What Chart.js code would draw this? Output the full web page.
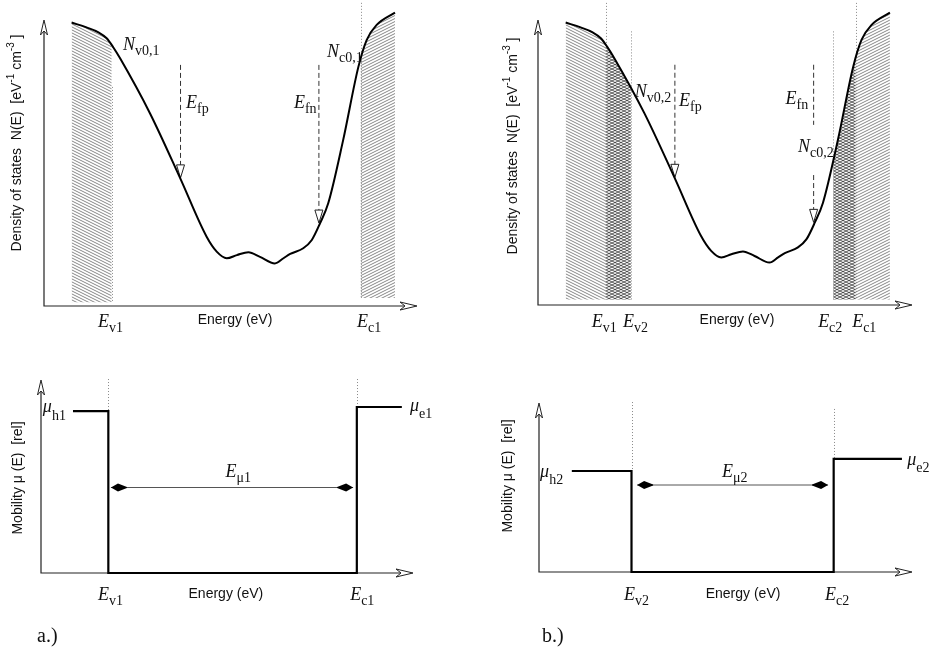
<!DOCTYPE html>
<html lang="ja">
<head>
<meta charset="utf-8">
<title>N(E) and mobility</title>
<script src="https://cdn.jsdelivr.net/npm/chart.js@4.4.1/dist/chart.umd.min.js"></script>
<style>
  html, body { margin: 0; padding: 0; background: #fff; }
  .panel { position: absolute; }
</style>
</head>
<body>
<canvas id="dosA" class="panel" width="468" height="340" style="left:0;top:0"></canvas>
<canvas id="dosB" class="panel" width="469" height="340" style="left:468px;top:0"></canvas>
<canvas id="mobA" class="panel" width="468" height="307" style="left:0;top:340px"></canvas>
<canvas id="mobB" class="panel" width="469" height="307" style="left:468px;top:340px"></canvas>
<script>
// ---- データ（図から読み取った値、単位は任意） ----
// 状態密度 N(E) のカーブ
const dosEnergy = [0.74, 1.14, 1.46, 1.68, 1.86, 2.04, 2.84, 3.65, 4.36, 4.63, 4.90, 5.17, 5.48,
                   5.79, 6.19, 6.42, 6.60, 6.95, 7.18, 7.40, 7.62, 8.02, 8.43, 8.65, 8.92, 9.41];
const dosValue = [9.91, 9.74, 9.57, 9.36, 9.04, 8.66, 6.74, 4.47, 2.42, 1.90, 1.67, 1.78, 1.88,
                  1.72, 1.49, 1.67, 1.82, 2.02, 2.31, 2.89, 3.59, 5.80, 8.37, 9.30, 9.83, 10.26];

// バンド端
const Ev1 = 1.81, Ev2 = 2.48, Ec2 = 7.90, Ec1 = 8.49;

// 擬フェルミ準位 Efp / Efn（破線の上端と矢印の先端）
const fermiEnergy = [3.66, 7.37];
const fermiTip = [4.48, 2.90];
const fermiTop = 8.43;

// 移動度 μ(E)
const mobEnergyA = [0.86, Ev1, Ev1, Ec1, Ec1, 9.70];
const mobValueA = [8.39, 8.39, 0, 0, 8.60, 8.60];
const mobEnergyB = [0.88, Ev2, Ev2, Ec2, Ec2, 9.73];
const mobValueB = [5.26, 5.26, 0, 0, 5.89, 5.89];

// 移動度ギャップ Eμ の両矢印 [左端, 右端, 高さ]
const gapA = [1.88, 8.39, 4.43];
const gapB = [2.63, 7.75, 4.53];

// ---- 書式 ----
const SERIF = '"Liberation Serif", "DejaVu Serif", serif';
const SANS = '"Liberation Sans", Arial, sans-serif';
const ITAL = `italic 18px ${SERIF}`;
const SUB = `14px ${SERIF}`;
const LBL = `14px ${SANS}`;
const MU = `italic 18px ${SERIF}`;

const sym = (main, s, font = ITAL, dy = 5) => [{ t: main, f: font }, { t: s, f: SUB, dy }];
const energyLabel = [{ t: "Energy (eV)", f: LBL }];
const dosTitle = [
  { t: "Density of states  N(E)  [eV", f: LBL },
  { t: "-1", f: `10px ${SANS}`, dy: -6 },
  { t: " cm", f: LBL },
  { t: "-3", f: `10px ${SANS}`, dy: -6 },
  { t: " ]", f: LBL },
];
const mobTitle = [{ t: "Mobility μ (E)  [rel]", f: LBL }];

function pattern(dirs, color, width) {
  const c = document.createElement("canvas");
  c.width = 6; c.height = 3;
  const g = c.getContext("2d");
  g.strokeStyle = color; g.lineWidth = width;
  dirs.forEach(d => {
    for (let k = -1; k <= 1; k++) {
      g.beginPath();
      if (d === "\\") { g.moveTo(-6, -3 + 3 * k); g.lineTo(12, 6 + 3 * k); }
      else { g.moveTo(-6, 6 + 3 * k); g.lineTo(12, -3 + 3 * k); }
      g.stroke();
    }
  });
  return g.createPattern(c, "repeat");
}
const HATCH_BACK = pattern(["\\"], "rgba(0,0,0,0.6)", 0.8);
const HATCH_FWD = pattern(["/"], "rgba(0,0,0,0.6)", 0.8);
const HATCH_CROSS = pattern(["\\", "/"], "rgba(0,0,0,0.75)", 0.8);

function rich(ctx, x, y, parts, align) {
  let w = 0;
  parts.forEach(p => { ctx.font = p.f; w += ctx.measureText(p.t).width; });
  let cx = align === "center" ? x - w / 2 : x;
  parts.forEach(p => {
    ctx.font = p.f;
    ctx.fillText(p.t, cx, y + (p.dy || 0));
    cx += ctx.measureText(p.t).width;
  });
}

// カーブの下をハッチング（x0〜x1 の範囲）
function hatch(chart, b) {
  const { ctx, scales: { x, y } } = chart;
  const line = chart.getDatasetMeta(0).dataset;
  const px0 = x.getPixelForValue(b.x0), px1 = x.getPixelForValue(b.x1);
  const pyb = y.getPixelForValue(b.bottom);
  ctx.save();
  ctx.beginPath();
  ctx.rect(px0, 0, px1 - px0, pyb);
  ctx.clip();
  ctx.beginPath();
  const pts = line.points;
  if (typeof line.path === "function") {
    if (line.updateControlPoints) line.updateControlPoints(chart.chartArea, "x");
    line.path(ctx);
  } else {
    pts.forEach((p, i) => (i ? ctx.lineTo(p.x, p.y) : ctx.moveTo(p.x, p.y)));
  }
  ctx.lineTo(pts[pts.length - 1].x, pyb);
  ctx.lineTo(pts[0].x, pyb);
  ctx.closePath();
  ctx.fillStyle = b.pat;
  ctx.fill();
  ctx.restore();
}

function decoPlugin(cfg) {
  return {
    id: "deco",
    beforeDatasetsDraw(chart) {
      const { ctx, chartArea: a, scales: { x, y } } = chart;
      (cfg.bands || []).forEach(b => hatch(chart, b));
      // バンド端の点線
      ctx.save();
      ctx.strokeStyle = "#8a8a8a";
      ctx.lineWidth = 1;
      ctx.setLineDash([1, 2]);
      (cfg.dotted || []).forEach(d => {
        const px = Math.round(x.getPixelForValue(d.x)) + 0.5;
        ctx.beginPath();
        ctx.moveTo(px, y.getPixelForValue(d.from));
        ctx.lineTo(px, y.getPixelForValue(d.to));
        ctx.stroke();
      });
      ctx.restore();
      // 軸
      ctx.save();
      ctx.strokeStyle = "#222";
      ctx.lineWidth = 1.2;
      ctx.beginPath();
      ctx.moveTo(a.left, a.top + 2);
      ctx.lineTo(a.left, a.bottom);
      ctx.lineTo(a.right - 2, a.bottom);
      ctx.stroke();
      ctx.restore();
    },
    afterDatasetDraw(chart, args) {
      if (!(cfg.triangles || []).includes(args.index)) return;
      const { ctx } = chart;
      const pts = args.meta.data;
      const p = pts[pts.length - 1];
      ctx.save();
      ctx.beginPath();
      ctx.moveTo(p.x, p.y);
      ctx.lineTo(p.x - 4, p.y - 13);
      ctx.lineTo(p.x + 4, p.y - 13);
      ctx.closePath();
      ctx.fillStyle = "#fff";
      ctx.fill();
      ctx.strokeStyle = "#222";
      ctx.lineWidth = 1;
      ctx.stroke();
      ctx.restore();
    },
    afterDatasetsDraw(chart) {
      const { ctx, chartArea: a, scales: { x, y } } = chart;
      ctx.save();
      // 軸の矢印（白抜き）
      ctx.strokeStyle = "#222";
      ctx.fillStyle = "#fff";
      ctx.lineWidth = 1;
      ctx.beginPath();
      ctx.moveTo(a.left, a.top);
      ctx.lineTo(a.left - 3.5, a.top + 15);
      ctx.lineTo(a.left, a.top + 11);
      ctx.lineTo(a.left + 3.5, a.top + 15);
      ctx.closePath();
      ctx.fill(); ctx.stroke();
      ctx.beginPath();
      ctx.moveTo(a.right, a.bottom);
      ctx.lineTo(a.right - 17, a.bottom - 4);
      ctx.lineTo(a.right - 12, a.bottom);
      ctx.lineTo(a.right - 17, a.bottom + 4);
      ctx.closePath();
      ctx.fill(); ctx.stroke();
      // Eμ の両矢印の先端
      if (cfg.gapIndex !== undefined) {
        const pts = chart.getDatasetMeta(cfg.gapIndex).data;
        ctx.fillStyle = "#000";
        [[pts[0], 1], [pts[pts.length - 1], -1]].forEach(([p, s]) => {
          ctx.beginPath();
          ctx.moveTo(p.x, p.y);
          ctx.lineTo(p.x + s * 7, p.y - 4);
          ctx.lineTo(p.x + s * 16, p.y - 0.6);
          ctx.lineTo(p.x + s * 16, p.y + 0.6);
          ctx.lineTo(p.x + s * 7, p.y + 4);
          ctx.closePath();
          ctx.fill();
        });
      }
      // 文字
      ctx.fillStyle = "#111";
      ctx.textBaseline = "alphabetic";
      (cfg.labels || []).forEach(l => {
        const px = x.getPixelForValue(l.x);
        const py = l.y !== undefined ? y.getPixelForValue(l.y) : a.bottom + l.below;
        rich(ctx, px, py, l.parts, l.align);
      });
      (cfg.free || []).forEach(l => rich(ctx, l.px, l.py, l.parts, l.align));
      if (cfg.title) {
        ctx.save();
        ctx.translate(cfg.title.px, cfg.title.py);
        ctx.rotate(-Math.PI / 2);
        ctx.textBaseline = "middle";
        rich(ctx, 0, 0, cfg.title.parts, "center");
        ctx.restore();
      }
      ctx.restore();
    },
  };
}

function options(pad, yMax) {
  return {
    responsive: false,
    animation: false,
    layout: { padding: pad },
    scales: {
      x: { type: "linear", min: 0, max: 10, display: false },
      y: { type: "linear", min: 0, max: yMax, display: false },
    },
    plugins: { legend: { display: false }, tooltip: { enabled: false } },
    elements: { point: { radius: 0, hoverRadius: 0 } },
    events: [],
  };
}

const xy = (xs, ys) => xs.map((v, i) => ({ x: v, y: ys[i] }));

function dosChart(id, pad, fermiSegs, cfg) {
  const datasets = [{
    data: xy(dosEnergy, dosValue),
    borderColor: "#000",
    borderWidth: 2,
    cubicInterpolationMode: "monotone",
    clip: false,
  }];
  const triangles = [];
  fermiSegs.forEach(segs => {
    segs.forEach((s, k) => {
      datasets.push({
        data: [{ x: s[0], y: s[1] }, { x: s[0], y: s[2] }],
        borderColor: "#333",
        borderWidth: 1,
        borderDash: [5, 3],
        clip: false,
      });
      if (k === segs.length - 1) triangles.push(datasets.length - 1);
    });
  });
  new Chart(document.getElementById(id), {
    type: "line",
    data: { datasets },
    options: options(pad, 10),
    plugins: [decoPlugin(Object.assign({ triangles }, cfg))],
  });
}

function mobChart(id, pad, yMax, xs, ys, gap, cfg) {
  new Chart(document.getElementById(id), {
    type: "line",
    data: {
      datasets: [
        { data: xy(xs, ys), borderColor: "#000", borderWidth: 2.2, tension: 0, clip: false },
        { data: [{ x: gap[0], y: gap[2] }, { x: gap[1], y: gap[2] }], borderColor: "#555", borderWidth: 1, clip: false },
      ],
    },
    options: options(pad, yMax),
    plugins: [decoPlugin(Object.assign({ gapIndex: 1 }, cfg))],
  });
}

const dosStart = dosEnergy[0], dosEnd = dosEnergy[dosEnergy.length - 1];

// a.) 状態密度
dosChart("dosA", { left: 44, right: 51, top: 20, bottom: 34 },
  [[[fermiEnergy[0], fermiTop, fermiTip[0]]], [[fermiEnergy[1], fermiTop, fermiTip[1]]]],
  {
    bands: [
      { x0: dosStart, x1: Ev1, bottom: 0.12, pat: HATCH_BACK },
      { x0: Ec1, x1: dosEnd, bottom: 0.28, pat: HATCH_FWD },
    ],
    dotted: [{ x: Ev1, from: 7.66, to: 0.12 }, { x: Ec1, from: 10.6, to: 0.28 }],
    labels: [
      { x: 2.12, y: 8.95, parts: sym("N", "v0,1") },
      { x: 3.81, y: 6.92, parts: sym("E", "fp") },
      { x: 6.70, y: 6.92, parts: sym("E", "fn") },
      { x: 7.59, y: 8.71, parts: sym("N", "c0,1") },
      { x: 1.45, below: 21, parts: sym("E", "v1") },
      { x: 5.12, below: 18, parts: energyLabel, align: "center" },
      { x: 8.39, below: 21, parts: sym("E", "c1") },
    ],
    title: { px: 17, py: 143, parts: dosTitle },
  });

// b.) 状態密度
dosChart("dosB", { left: 70, right: 25, top: 20, bottom: 35 },
  [[[fermiEnergy[0], fermiTop, fermiTip[0]]],
   [[fermiEnergy[1], fermiTop, 6.32], [fermiEnergy[1], 4.56, fermiTip[1]]]],
  {
    bands: [
      { x0: dosStart, x1: Ev1, bottom: 0.18, pat: HATCH_BACK },
      { x0: Ev1, x1: Ev2, bottom: 0.18, pat: HATCH_CROSS },
      { x0: Ec2, x1: Ec1, bottom: 0.18, pat: HATCH_CROSS },
      { x0: Ec1, x1: dosEnd, bottom: 0.18, pat: HATCH_FWD },
    ],
    dotted: [
      { x: Ev1, from: 10.6, to: 0.18 }, { x: Ev2, from: 9.6, to: 0.18 },
      { x: Ec2, from: 9.6, to: 0.18 }, { x: Ec1, from: 10.6, to: 0.18 },
    ],
    labels: [
      { x: 2.59, y: 7.3, parts: sym("N", "v0,2") },
      { x: 3.77, y: 7.0, parts: sym("E", "fp") },
      { x: 6.62, y: 7.07, parts: sym("E", "fn") },
      { x: 6.95, y: 5.37, parts: sym("N", "c0,2") },
      { x: 1.44, below: 22, parts: sym("E", "v1") },
      { x: 2.27, below: 22, parts: sym("E", "v2") },
      { x: 5.32, below: 19, parts: energyLabel, align: "center" },
      { x: 7.49, below: 22, parts: sym("E", "c2") },
      { x: 8.40, below: 22, parts: sym("E", "c1") },
    ],
    title: { px: 45, py: 146, parts: dosTitle },
  });

// a.) 移動度
mobChart("mobA", { left: 41, right: 55, top: 40, bottom: 74 }, 10, mobEnergyA, mobValueA, gapA, {
  dotted: [{ x: Ev1, from: 10.05, to: mobValueA[0] }, { x: Ec1, from: 10.05, to: mobValueA[5] }],
  labels: [
    { x: 0.05, y: 8.33, parts: sym("μ", "h1", MU, 8) },
    { x: 9.92, y: 8.39, parts: sym("μ", "e1", MU, 7) },
    { x: 5.30, y: 5.0, parts: sym("E", "μ1"), align: "center" },
    { x: 1.53, below: 27, parts: sym("E", "v1") },
    { x: 4.97, below: 25, parts: energyLabel, align: "center" },
    { x: 8.31, below: 27, parts: sym("E", "c1") },
  ],
  free: [{ px: 37, py: 302, parts: [{ t: "a.)", f: `20px ${SERIF}` }] }],
  title: { px: 18, py: 138, parts: mobTitle },
});

// b.) 移動度
mobChart("mobB", { left: 71, right: 25, top: 63, bottom: 75 }, 8.8, mobEnergyB, mobValueB, gapB, {
  dotted: [{ x: Ev2, from: 8.85, to: mobValueB[0] }, { x: Ec2, from: 8.49, to: mobValueB[5] }],
  labels: [
    { x: 0.03, y: 4.95, parts: sym("μ", "h2", MU, 7) },
    { x: 9.87, y: 5.57, parts: sym("μ", "e2", MU, 7) },
    { x: 5.25, y: 4.95, parts: sym("E", "μ2"), align: "center" },
    { x: 2.28, below: 28, parts: sym("E", "v2") },
    { x: 5.47, below: 26, parts: energyLabel, align: "center" },
    { x: 7.67, below: 28, parts: sym("E", "c2") },
  ],
  free: [{ px: 74, py: 302, parts: [{ t: "b.)", f: `20px ${SERIF}` }] }],
  title: { px: 40, py: 136, parts: mobTitle },
});
</script>
</body>
</html>
